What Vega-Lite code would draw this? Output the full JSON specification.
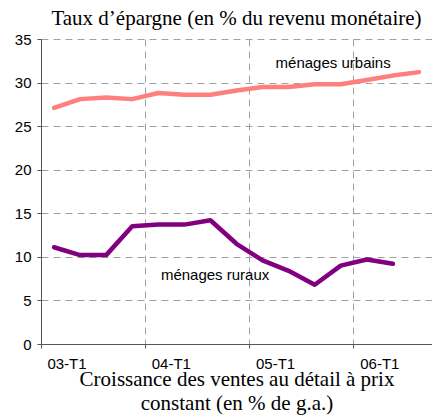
{
  "$schema": "https://vega.github.io/schema/vega-lite/v6.json",
  "width": 391,
  "height": 305,
  "autosize": {"type": "none"},
  "padding": {"left": 41, "top": 39, "right": 0, "bottom": 72},
  "background": "white",
  "title": {"text": "Taux d’épargne (en % du revenu monétaire)", "font": "Liberation Serif", "fontSize": 21, "fontWeight": "normal", "color": "black", "offset": 3, "anchor": "middle"},
  "config": {
    "view": {"stroke": null},
    "axis": {"labelFont": "Liberation Sans", "labelFontSize": 15, "labelColor": "black", "domainColor": "#555555", "tickColor": "#555555", "tickSize": 4, "gridColor": "#a0a0a0", "gridDash": [7, 5], "gridWidth": 1}
  },
  "datasets": {
    "series": [
      {"trimestre": "03-T1", "serie": "urbains", "taux": 27.1},
      {"trimestre": "03-T2", "serie": "urbains", "taux": 28.1},
      {"trimestre": "03-T3", "serie": "urbains", "taux": 28.3},
      {"trimestre": "03-T4", "serie": "urbains", "taux": 28.1},
      {"trimestre": "04-T1", "serie": "urbains", "taux": 28.8},
      {"trimestre": "04-T2", "serie": "urbains", "taux": 28.6},
      {"trimestre": "04-T3", "serie": "urbains", "taux": 28.6},
      {"trimestre": "04-T4", "serie": "urbains", "taux": 29.1},
      {"trimestre": "05-T1", "serie": "urbains", "taux": 29.5},
      {"trimestre": "05-T2", "serie": "urbains", "taux": 29.5},
      {"trimestre": "05-T3", "serie": "urbains", "taux": 29.8},
      {"trimestre": "05-T4", "serie": "urbains", "taux": 29.8},
      {"trimestre": "06-T1", "serie": "urbains", "taux": 30.3},
      {"trimestre": "06-T2", "serie": "urbains", "taux": 30.8},
      {"trimestre": "06-T3", "serie": "urbains", "taux": 31.2},
      {"trimestre": "03-T1", "serie": "ruraux", "taux": 11.1},
      {"trimestre": "03-T2", "serie": "ruraux", "taux": 10.2},
      {"trimestre": "03-T3", "serie": "ruraux", "taux": 10.2},
      {"trimestre": "03-T4", "serie": "ruraux", "taux": 13.5},
      {"trimestre": "04-T1", "serie": "ruraux", "taux": 13.7},
      {"trimestre": "04-T2", "serie": "ruraux", "taux": 13.7},
      {"trimestre": "04-T3", "serie": "ruraux", "taux": 14.2},
      {"trimestre": "04-T4", "serie": "ruraux", "taux": 11.5},
      {"trimestre": "05-T1", "serie": "ruraux", "taux": 9.6},
      {"trimestre": "05-T2", "serie": "ruraux", "taux": 8.4},
      {"trimestre": "05-T3", "serie": "ruraux", "taux": 6.8},
      {"trimestre": "05-T4", "serie": "ruraux", "taux": 9.0},
      {"trimestre": "06-T1", "serie": "ruraux", "taux": 9.7},
      {"trimestre": "06-T2", "serie": "ruraux", "taux": 9.2}
    ],
    "etiquettes": [
      {"trimestre": "05-T2", "taux": 32.3, "texte": "ménages urbains"},
      {"trimestre": "04-T1", "taux": 7.9, "texte": "ménages ruraux"}
    ]
  },
  "layer": [
    {
      "data": {"name": "series"},
      "mark": {"type": "line", "strokeWidth": 4.5, "strokeCap": "round", "strokeJoin": "round"},
      "encoding": {
        "x": {
          "field": "trimestre", "type": "ordinal", "sort": null,
          "scale": {"type": "band", "domain": ["03-T1","03-T2","03-T3","03-T4","04-T1","04-T2","04-T3","04-T4","05-T1","05-T2","05-T3","05-T4","06-T1","06-T2","06-T3"], "paddingInner": 0, "paddingOuter": 0},
          "axis": {
            "values": ["03-T1", "04-T1", "05-T1", "06-T1"],
            "bandPosition": 0,
            "labelOffset": 13,
            "labelAngle": 0,
            "labelPadding": 8,
            "grid": true,
            "title": ["Croissance des ventes au détail à prix", "constant (en % de g.a.)"],
            "titleFont": "Liberation Serif",
            "titleFontSize": 21,
            "titleFontWeight": "normal",
            "titleColor": "black",
            "titleLineHeight": 24,
            "titlePadding": -3
          }
        },
        "y": {
          "field": "taux", "type": "quantitative",
          "scale": {"domain": [0, 35], "nice": false},
          "axis": {"values": [0, 5, 10, 15, 20, 25, 30, 35], "grid": true, "title": null, "labelPadding": 6}
        },
        "color": {"field": "serie", "type": "nominal", "scale": {"domain": ["urbains", "ruraux"], "range": ["#FF7F7F", "#800080"]}, "legend": null}
      }
    },
    {
      "data": {"name": "etiquettes"},
      "transform": [{"filter": "datum.trimestre == '05-T2'"}],
      "mark": {"type": "text", "align": "left", "baseline": "middle", "font": "Liberation Sans", "fontSize": 15, "color": "black"},
      "encoding": {
        "x": {"field": "trimestre", "type": "ordinal", "bandPosition": 0},
        "y": {"field": "taux", "type": "quantitative"},
        "text": {"field": "texte"}
      }
    },
    {
      "data": {"name": "etiquettes"},
      "transform": [{"filter": "datum.trimestre == '04-T1'"}],
      "mark": {"type": "text", "align": "left", "baseline": "middle", "font": "Liberation Sans", "fontSize": 15, "color": "black"},
      "encoding": {
        "x": {"field": "trimestre", "type": "ordinal", "bandPosition": 0.6},
        "y": {"field": "taux", "type": "quantitative"},
        "text": {"field": "texte"}
      }
    }
  ]
}
